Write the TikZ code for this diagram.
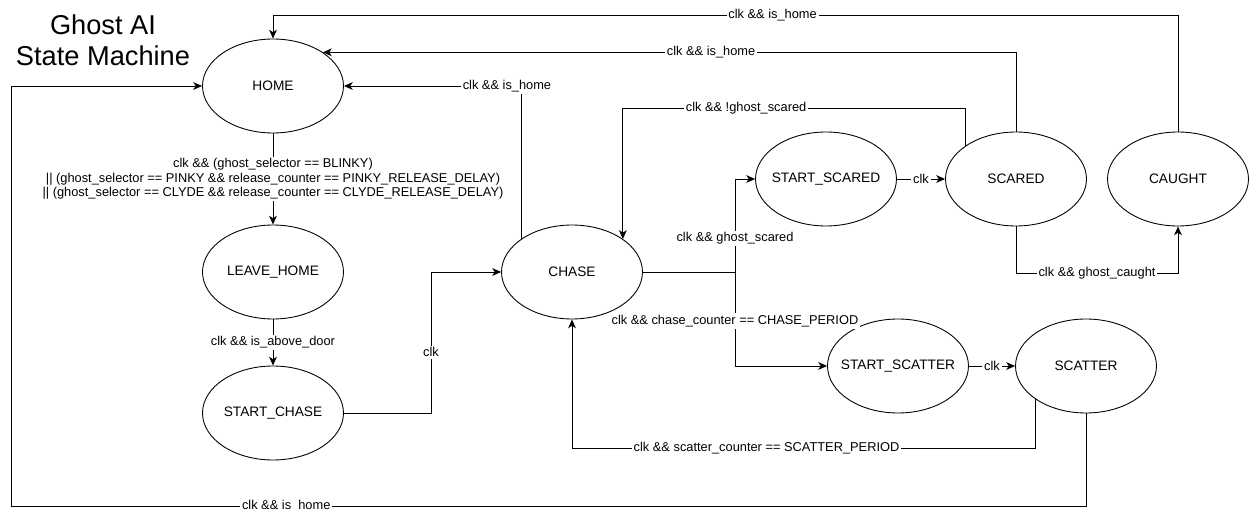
\documentclass[tikz,border=0pt]{standalone}
\usepackage{fontspec}
\setmainfont{Liberation Sans}
\usetikzlibrary{arrows.meta, shapes.geometric, calc}

\begin{document}
\begin{tikzpicture}[
  x=0.02cm, y=-0.02cm,
  state/.style={ellipse, draw, line width=0.5pt, minimum width=2.82cm, minimum height=1.88cm, inner sep=0pt, font=\fontsize{7.8}{9}\selectfont},
  tr/.style={-{Stealth[length=5pt, width=4.4pt, inset=1.4pt]}, line width=0.5pt},
  lbl/.style={font=\fontsize{7.3}{8.2}\selectfont, fill=white, inner sep=1pt, align=center},
  title/.style={font=\fontsize{15.5}{17.5}\selectfont, align=center}
]
\def\xleft{11}
\def\ytop{15}
\def\ybot{506}

\useasboundingbox (0,0) rectangle (1249,510);

\node[title] (title) at (103,40) {Ghost AI\\State Machine};

\foreach \n/\x/\y/\txt in {home/273/86/HOME, leave/273/272/LEAVE\_HOME, startchase/273/413/START\_CHASE,
  chase/572/272/CHASE, startscared/826/179/START\_SCARED, scared/1016/179/SCARED, caught/1178/179/CAUGHT,
  startscatter/898/366/START\_SCATTER, scatter/1086/366/SCATTER} {
  \node[state] (\n) at (\x,\y) {\makebox[0pt]{\txt}};
}

\coordinate (rowtop) at (0,\ytop);
\coordinate (rowscared) at (0,108);
\coordinate (rowscatter) at (0,448);
\coordinate (fork) at (735,272);

\draw[tr] (home.south) -- (leave.north) node[lbl, midway]{clk \&\& (ghost\_selector == BLINKY)\\|| (ghost\_selector == PINKY \&\& release\_counter == PINKY\_RELEASE\_DELAY)\\|| (ghost\_selector == CLYDE \&\& release\_counter == CLYDE\_RELEASE\_DELAY)};
\draw[tr] (leave.south) -- (startchase.north) node[lbl, midway]{clk \&\& is\_above\_door};
\draw[tr] (startchase.east) -- (431,413) |- (chase.west) node[lbl, pos=0.216]{clk};

\draw[tr] (chase.147.5) |- (home.east) node[lbl, pos=0.54]{clk \&\& is\_home};
\draw[tr] (scared.north) |- (home.34) node[lbl, pos=0.72]{clk \&\& is\_home};
\draw[tr] (caught.north) |- node[lbl, pos=0.724]{clk \&\& is\_home} (home.north |- rowtop) -- (home.north);
\draw[tr] (scatter.south) |- node[lbl, pos=0.872]{clk \&\& is\_home} (\xleft,\ybot) |- (home.west);

\draw[tr] (chase.east) -- (fork) |- (startscared.west) node[lbl, pos=0.18]{clk \&\& ghost\_scared};
\draw[tr] (fork) |- (startscatter.west) node[lbl, pos=0.26]{clk \&\& chase\_counter == CHASE\_PERIOD};
\draw[tr] (startscared) -- (scared) node[lbl, midway]{clk};
\draw[tr] (startscatter) -- (scatter) node[lbl, midway]{clk};

\draw[tr] (scared.147.5) |- node[lbl, pos=0.82]{clk \&\& !ghost\_scared} (chase.33.5 |- rowscared) -- (chase.33.5);
\draw[tr] (scared.south) -- ++(0,47) -| (caught.south) node[lbl, pos=0.25]{clk \&\& ghost\_caught};
\draw[tr] (scatter.213) |- node[lbl, pos=0.79]{clk \&\& scatter\_counter == SCATTER\_PERIOD} (chase.south |- rowscatter) -- (chase.south);

\end{tikzpicture}
\end{document}
